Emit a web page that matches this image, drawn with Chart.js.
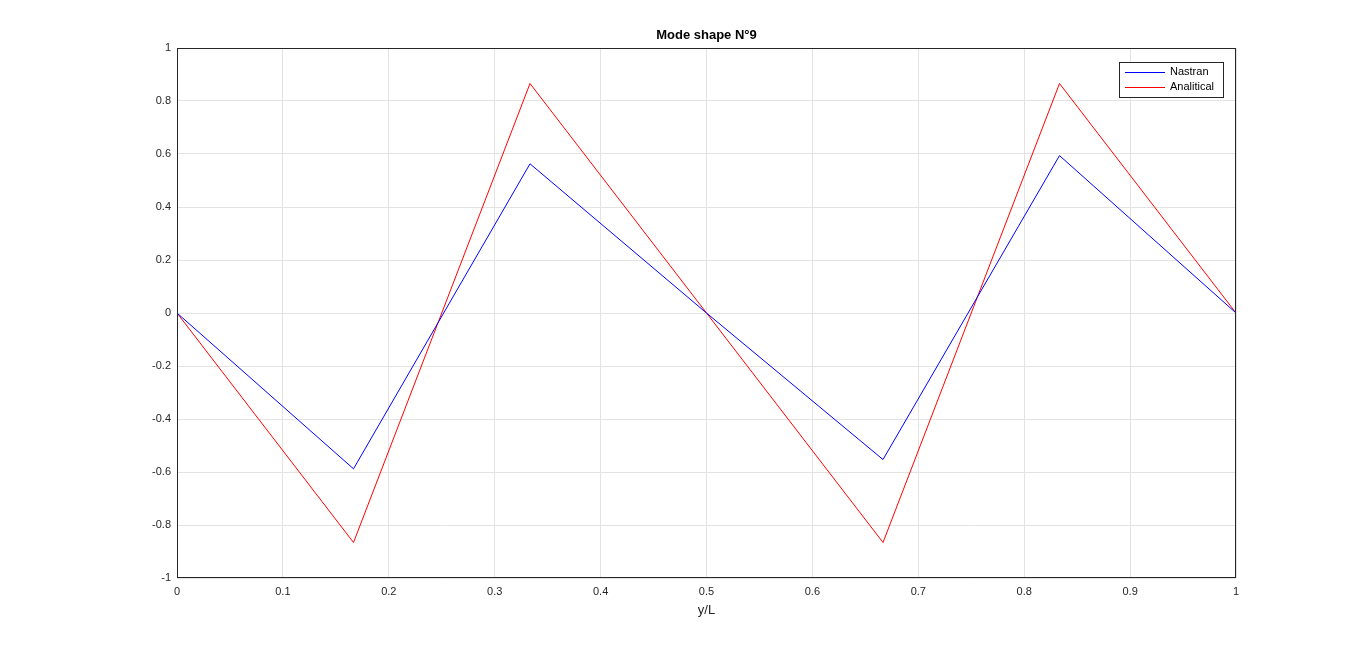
<!DOCTYPE html>
<html><head><meta charset="utf-8">
<script src="https://cdn.jsdelivr.net/npm/chart.js@4"></script>
<style>html,body{margin:0;background:#fff}#w{width:1366px;height:651px}</style>
</head><body><div id="w"><canvas id="c"></canvas></div>
<script>
const xs = [0, 1/6, 1/3, 0.5, 2/3, 5/6, 1];
const nastran = [0, -0.588, 0.563, 0, -0.553, 0.594, 0];
const analytical = [0, -0.866, 0.866, 0, -0.866, 0.866, 0];
const seriesNames = ['Nastran', 'Analitical'];
const titleText = 'Mode shape N°9';
const xLabel = 'y/L';
const F = '"Liberation Sans", Arial, sans-serif';

const extras = {
  id: 'extras',
  afterDraw(ch) {
    const g = ch.ctx, a = ch.chartArea;
    g.save();
    g.fillStyle = '#000'; g.font = 'bold 13px ' + F; g.textAlign = 'center'; g.textBaseline = 'middle';
    g.fillText(titleText, (a.left + a.right) / 2, 35);
    g.fillStyle = '#262626'; g.font = '13px ' + F;
    g.fillText(xLabel, (a.left + a.right) / 2, 610);
    g.strokeStyle = '#262626'; g.lineWidth = 1;
    g.strokeRect(a.left + 0.5, a.top + 0.5, a.right - a.left - 1, a.bottom - a.top - 1);
    const lx = 1119, ly = 62, lw = 104, lh = 35;
    g.fillStyle = '#fff'; g.fillRect(lx, ly, lw, lh);
    g.strokeStyle = '#262626'; g.strokeRect(lx + 0.5, ly + 0.5, lw, lh);
    const cols = ['#0000ff', '#ff0000'];
    g.font = '11px ' + F; g.textAlign = 'left';
    seriesNames.forEach((n, i) => {
      const y = Math.round(ly + 10 + i * 15);
      g.strokeStyle = cols[i]; g.lineWidth = 1;
      g.beginPath(); g.moveTo(lx + 6, y + 0.5); g.lineTo(lx + 46, y + 0.5); g.stroke();
      g.fillStyle = '#000'; g.fillText(n, lx + 51, y);
    });
    g.restore();
  }
};

new Chart(document.getElementById('c'), {
  type: 'line',
  data: { datasets: [
    { label: seriesNames[0], data: xs.map((x, i) => ({x, y: nastran[i]})), borderColor: '#0000ff', borderWidth: 1, pointRadius: 0, tension: 0 },
    { label: seriesNames[1], data: xs.map((x, i) => ({x, y: analytical[i]})), borderColor: '#ff0000', borderWidth: 1, pointRadius: 0, tension: 0 }
  ]},
  options: {
    responsive: true, maintainAspectRatio: false, animation: false,
    layout: { padding: { top: 48, right: 130, left: 0, bottom: 0 } },
    plugins: { legend: { display: false }, title: { display: false }, tooltip: { enabled: false } },
    scales: {
      x: { type: 'linear', min: 0, max: 1,
        ticks: { stepSize: 0.1, color: '#262626', font: { family: F, size: 11 }, maxRotation: 0, padding: 7,
          callback: v => Math.round(v * 10) / 10 },
        grid: { color: '#e3e3e3', drawTicks: false },
        border: { display: false },
        afterFit: s => { s.height = 73; } },
      y: { min: -1, max: 1,
        ticks: { stepSize: 0.2, color: '#262626', font: { family: F, size: 11 }, padding: 6,
          callback: v => Math.round(v * 10) / 10 },
        grid: { color: '#e3e3e3', drawTicks: false },
        border: { display: false },
        afterFit: s => { s.width = 177; } }
    }
  },
  plugins: [extras]
});
</script></body></html>
